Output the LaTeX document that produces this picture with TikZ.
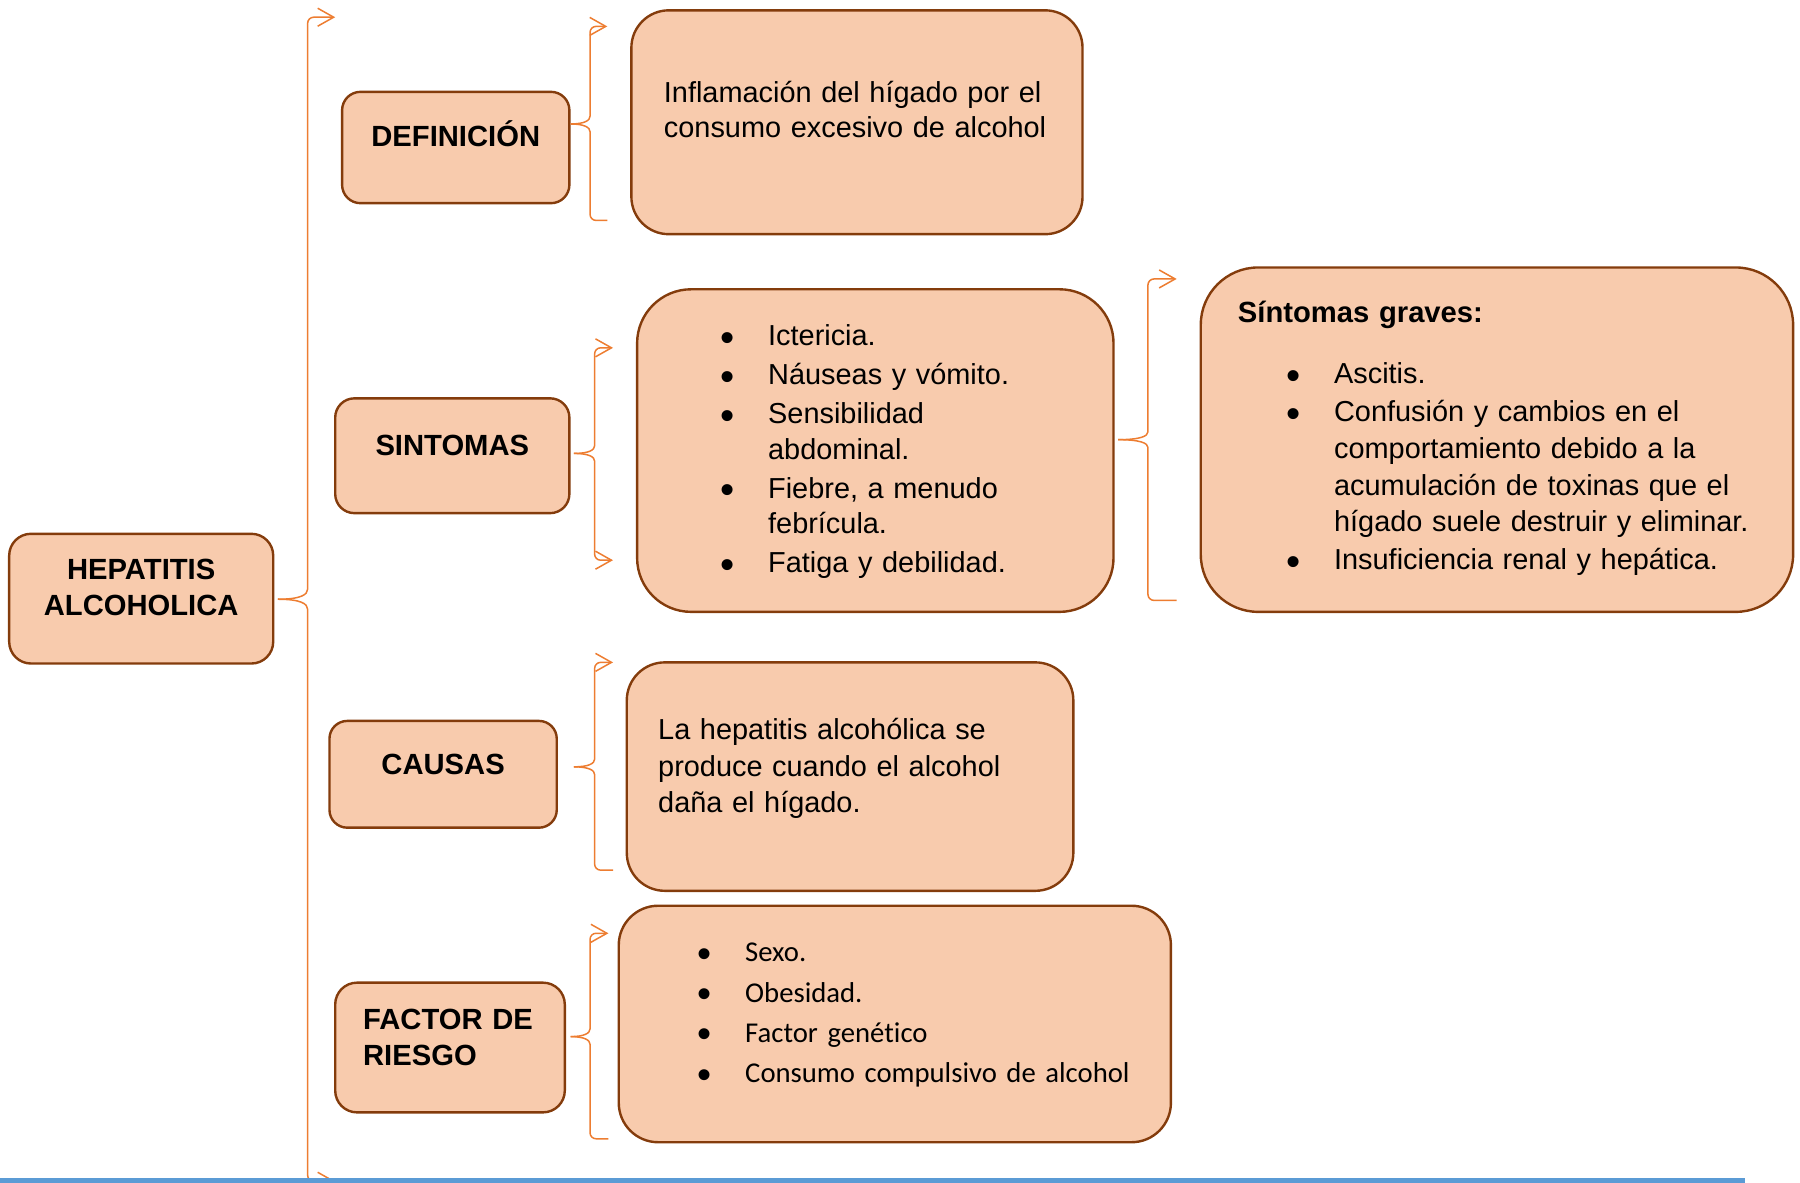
\documentclass[tikz,border=0pt]{standalone}
\usepackage{fontspec}
\usepackage{graphicx}
\setmainfont[Ligatures=CommonOff]{Liberation Sans}
\newfontfamily\calibri[Ligatures=CommonOff]{Carlito}
\usetikzlibrary{arrows.meta,fit}

\definecolor{boxfill}{HTML}{F8CBAD}
\definecolor{boxline}{HTML}{843C0C}
\definecolor{braceline}{HTML}{ED7D31}
\definecolor{ruleblue}{HTML}{5B9BD5}

\newcommand{\bul}[1]{\hangindent=24pt\hangafter=1\noindent
  \makebox[24pt][l]{\rmfamily\raisebox{-2.8pt}{\scalebox{1.4}{\textbullet}}}#1\par}

\begin{document}
\begin{tikzpicture}[x=0.574pt, y=-0.574pt,
  lbl/.style={draw=boxline, fill=boxfill, line width=1.2pt, inner sep=0pt},
  lbltxt/.style={font=\fontsize{14.6}{18}\selectfont\bfseries, inner sep=0pt, anchor=base},
  txt/.style={font=\fontsize{14.45}{17.8}\selectfont, inner sep=0pt, anchor=base west, text width=#1, align=left},
  txt/.default=250pt,
  brace/.style={draw=braceline, line width=0.75pt, rounded corners=3pt},
  barb/.style={brace, -{Straight Barb[length=8pt,width=9pt]}}]
\useasboundingbox (0,0) rectangle (1568,1030.5);

% left column
\node[lbl, rounded corners=10.9pt, fit={(8,465)(238,578)}] (hep) {};
\node[lbl, rounded corners=9.2pt, fit={(298,80)(496,177)}] (def) {};
\node[lbl, rounded corners=9.6pt, fit={(292,347)(496,447)}] (sint) {};
\node[lbl, rounded corners=8.9pt, fit={(287,628)(485,721)}] (caus) {};
\node[lbl, rounded corners=10.9pt, fit={(292,856)(492,969)}] (fact) {};

\node[lbltxt, text width=150pt, align=center] (hept) at (123,505) {HEPATITIS\\ALCOHOLICA};
\node[lbltxt] (deft) at (397,128) {DEFINICIÓN};
\node[lbltxt] (sintt) at (394,397) {SINTOMAS};
\node[lbltxt] (caust) at (386,675) {CAUSAS};
\node[lbltxt, anchor=base west, text width=120pt, align=left] (factt) at (316,897) {FACTOR DE\\RIESGO};

% content boxes
\node[lbl, rounded corners=18.7pt, fit={(550,9)(943,204)}] (defbox) {};
\node[lbl, rounded corners=27pt, fit={(555,252)(970,533)}] (sintbox) {};
\node[lbl, rounded corners=28.7pt, fit={(1046,233)(1562,533)}] (gravbox) {};
\node[lbl, rounded corners=19pt, fit={(546,577)(935,776)}] (causbox) {};
\node[lbl, rounded corners=19.7pt, fit={(539,789)(1020,995)}] (factbox) {};

\node[txt] (defx) at (578,89) {Inflamación del hígado por el\\consumo excesivo de alcohol};
\node[txt=230pt] (sintx) at (627,301) {\setlength{\parskip}{1.7pt}%
  \bul{Ictericia.}\bul{Náuseas y vómito.}\bul{Sensibilidad\newline abdominal.}%
  \bul{Fiebre, a menudo\newline febrícula.}\bul{Fatiga y debilidad.}};
\node[txt, font=\fontsize{14.6}{17.8}\selectfont\bfseries] (gravt) at (1078,281) {Síntomas graves:};
\node[txt=270pt, font=\fontsize{14.45}{18.4}\selectfont] (gravx) at (1120,334) {\setlength{\parskip}{0.6pt}%
  \bul{Ascitis.}%
  \bul{Confusión y cambios en el\newline comportamiento debido a la\newline acumulación de toxinas que el\newline hígado suele destruir y eliminar.}%
  \bul{Insuficiencia renal y hepática.}};
\node[txt, font=\fontsize{14.45}{18.4}\selectfont] (causx) at (573,644) {La hepatitis alcohólica se\\produce cuando el alcohol\\daña el hígado.};
\node[txt=270pt, font=\calibri\fontsize{14.35}{20.1}\selectfont] (factx) at (607,838) {%
  \bul{Sexo.}\bul{Obesidad.}\bul{Factor genético}\bul{Consumo compulsivo de alcohol}};

% main brace
\coordinate (mainTip) at (242,522);
\coordinate (mainTop) at (292,15);
\coordinate (mainBot) at (292,1029);
\draw[barb] (mainTip) .. controls (262,522) and (268,518) .. (268,508) -- (268,15) -- (mainTop);
\draw[barb] (mainTip) .. controls (262,522) and (268,526) .. (268,536) -- (268,1029) -- (mainBot);

% definicion brace
\coordinate (defTip) at (497,108);
\coordinate (defTop) at (529,23);
\coordinate (defBot) at (529,192);
\draw[barb] (defTip) .. controls (509,108) and (514,105) .. (514,96) -- (514,23) -- (defTop);
\draw[brace] (defTip) .. controls (509,108) and (514,111) .. (514,120) -- (514,192) -- (defBot);

% sintomas brace
\coordinate (sintTip) at (500,395);
\coordinate (sintTop) at (534,303);
\coordinate (sintBot) at (534,488);
\draw[barb] (sintTip) .. controls (513,395) and (518,392) .. (518,383) -- (518,303) -- (sintTop);
\draw[barb] (sintTip) .. controls (513,395) and (518,398) .. (518,407) -- (518,488) -- (sintBot);

% graves brace
\coordinate (gravTip) at (974,383);
\coordinate (gravTop) at (1025,243);
\coordinate (gravBot) at (1025,523);
\draw[barb] (gravTip) .. controls (993,383) and (1000,380) .. (1000,371) -- (1000,243) -- (gravTop);
\draw[brace] (gravTip) .. controls (993,383) and (1000,386) .. (1000,395) -- (1000,523) -- (gravBot);

% causas brace
\coordinate (causTip) at (500,668);
\coordinate (causTop) at (534,577);
\coordinate (causBot) at (534,758);
\draw[barb] (causTip) .. controls (513,668) and (518,665) .. (518,656) -- (518,577) -- (causTop);
\draw[brace] (causTip) .. controls (513,668) and (518,671) .. (518,680) -- (518,758) -- (causBot);

% factor brace
\coordinate (factTip) at (497,903);
\coordinate (factTop) at (530,813);
\coordinate (factBot) at (530,992);
\draw[barb] (factTip) .. controls (509,903) and (514,900) .. (514,891) -- (514,813) -- (factTop);
\draw[brace] (factTip) .. controls (509,903) and (514,906) .. (514,915) -- (514,992) -- (factBot);

% bottom rule
\draw[ruleblue, line width=2.3pt] (0,1028.6) -- (1520,1028.6);
\end{tikzpicture}
\end{document}
